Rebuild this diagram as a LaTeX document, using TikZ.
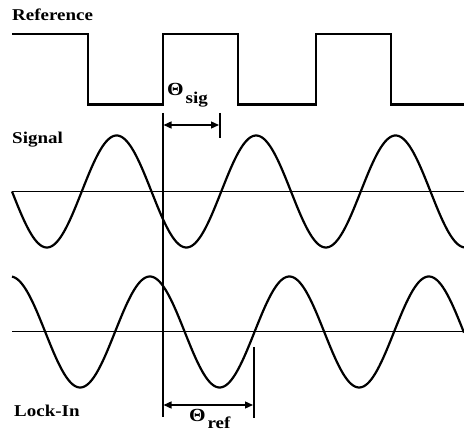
\documentclass[tikz,border=0pt]{standalone}
\usepackage{fontspec}
\setmainfont{Liberation Serif}
\newfontfamily\lblfont[FakeStretch=1.15]{Liberation Serif}
\usetikzlibrary{arrows.meta}
\tikzset{
  lbl/.style={font=\lblfont\bfseries\fontsize{16.5}{18}\selectfont, inner sep=0pt, anchor=base west},
  theta/.style={lbl, font=\lblfont\bfseries\fontsize{18.5}{20}\selectfont},
  wave/.style={line width=2.5pt, line join=miter},
  sine/.style={line width=2.2pt, smooth, samples=300},
  axisline/.style={line width=1pt},
  marker/.style={line width=2pt},
  dim/.style={line width=1.3pt, {Triangle[length=8pt,width=7pt]}-{Triangle[length=8pt,width=7pt]}}
}
\begin{document}
\begin{tikzpicture}[x=1pt,y=-1pt]
\useasboundingbox (0,0) rectangle (464,433);
% labels
\node[lbl] (reflbl) at (12,21) {Reference};
\node[lbl] (siglbl) at (12,144) {Signal};
\node[lbl] (locklbl) at (14,417) {Lock-In};
% reference square wave
\draw[wave] (12,34) -- (88,34) -- (88,104.5) -- (163,104.5) -- (163,34) -- (238,34) -- (238,104.5) -- (316,104.5) -- (316,34) -- (391,34) -- (391,104.5) -- (464,104.5);
% axes
\coordinate (sigaxL) at (12,191.5);
\coordinate (sigaxR) at (464,191.5);
\coordinate (lockaxL) at (12,332);
\coordinate (lockaxR) at (464,332);
\draw[axisline] (sigaxL) -- (sigaxR);
\draw[axisline] (lockaxL) -- (lockaxR);
% signal sine
\draw[sine] plot[domain=12:464] (\x,{191.5+56*sin((\x-12)*2.58065)});
% lock-in sine
\draw[sine] plot[domain=12:464] (\x,{332-55.5*sin((\x-115)*2.58065)});
% phase marker lines
\coordinate (vtop) at (162.5,113);
\coordinate (vbot) at (162.5,417);
\draw[marker] (vtop) -- (vbot);
\coordinate (sbarT) at (220,113);
\coordinate (sbarB) at (220,138);
\draw[marker] (sbarT) -- (sbarB);
\coordinate (rbarT) at (254,347);
\coordinate (rbarB) at (254,418);
\draw[marker] (rbarT) -- (rbarB);
% dimension arrows
\coordinate (sigL) at (163.5,125);
\coordinate (sigR) at (219,125);
\draw[dim] (sigL) -- (sigR);
\coordinate (refL) at (163.5,405);
\coordinate (refR) at (253,405);
\draw[dim] (refL) -- (refR);
% theta labels
\node[theta] (thsig) at (167,96) {Θ};
\node[lbl] (thsigsub) at (thsig.base east) [xshift=1.5pt, yshift=-7.5pt] {sig};
\node[theta] (thref) at (189,421) {Θ};
\node[lbl] (threfsub) at (thref.base east) [xshift=1.5pt, yshift=-7.5pt] {ref};
\end{tikzpicture}
\end{document}
